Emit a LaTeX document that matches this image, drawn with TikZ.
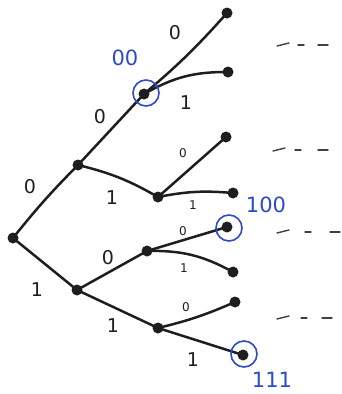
\documentclass[tikz,border=0pt]{standalone}
\usepackage{fontspec}
\setmainfont{DejaVu Sans}
\definecolor{penblue}{RGB}{45,75,200}
\definecolor{ink}{RGB}{30,30,30}
\begin{document}
\begin{tikzpicture}[x=1pt,y=-1pt,
  dot/.style={circle,fill=ink,inner sep=0pt,minimum size=11pt},
  edge/.style={draw=ink,line width=2.5pt,line cap=round},
  lbl/.style={text=ink,font=\fontsize{19}{19}\selectfont,inner sep=0pt},
  slbl/.style={text=ink,font=\fontsize{12}{12}\selectfont,inner sep=0pt},
  blbl/.style={text=penblue,font=\fontsize{21}{21}\selectfont,inner sep=0pt},
  ring/.style={draw=penblue,line width=1.6pt,circle,inner sep=0pt,minimum size=26pt},
  dashline/.style={draw=ink!85,line width=1.4pt,line cap=round}]
\useasboundingbox (0,0) rectangle (341,394);
% nodes
\node[dot] (r) at (13,238) {};
\node[dot] (a) at (78,165) {};
\node[dot] (b) at (77,290) {};
\node[dot] (aa) at (144,94) {};
\node[dot] (ab) at (158,197) {};
\node[dot] (ba) at (147,251) {};
\node[dot] (bb) at (158,328) {};
\node[dot] (aaa) at (227,13) {};
\node[dot] (aab) at (228,72) {};
\node[dot] (aba) at (226,137) {};
\node[dot] (abb) at (233,193) {};
\node[dot] (baa) at (227,227) {};
\node[dot] (bab) at (233,272) {};
\node[dot] (bba) at (235,302) {};
\node[dot] (bbb) at (243,355) {};
% edges
\draw[edge] (r.center) to[bend left=3] (a.center);
\draw[edge] (r.center) -- (b.center);
\draw[edge] (a.center) -- (aa.center);
\draw[edge] (a.center) to[bend left=8] (ab.center);
\draw[edge] (aa.center) to[bend right=4] (aaa.center);
\draw[edge] (aa.center) to[bend left=15] (aab.center);
\draw[edge] (ab.center) -- (aba.center);
\draw[edge] (ab.center) to[bend left=8] (abb.center);
\draw[edge] (b.center) -- (ba.center);
\draw[edge] (b.center) -- (bb.center);
\draw[edge] (ba.center) -- (baa.center);
\draw[edge] (ba.center) to[bend left=15] (bab.center);
\draw[edge] (bb.center) to[bend right=5] (bba.center);
\draw[edge] (bb.center) -- (bbb.center);
% edge labels
\node[lbl] (l1) at (30,187) {0};
\node[lbl] (l2) at (37,290) {1};
\node[lbl] (l3) at (100,117) {0};
\node[lbl] (l4) at (112,198) {1};
\node[lbl] (l5) at (175,33) {0};
\node[lbl] (l6) at (186,103) {1};
\node[slbl] (l7) at (183,153) {0};
\node[slbl] (l8) at (193,205) {1};
\node[lbl] (l9) at (108,258) {0};
\node[lbl] (l10) at (113,326) {1};
\node[slbl] (l11) at (183,231) {0};
\node[slbl] (l12) at (184,268) {1};
\node[slbl] (l13) at (186,307) {0};
\node[lbl] (l14) at (193,360) {1};
% blue annotations
\node[ring] (c1) at (146,93) {};
\node[ring] (c2) at (229,228) {};
\node[ring] (c3) at (244,354) {};
\node[blbl] (t1) at (125,58) {00};
\node[blbl] (t2) at (266,205) {100};
\node[blbl] (t3) at (272,380) {111};
% dashes
\foreach \y/\xa/\xb/\xc in {45/277/298/318, 150/273/295/318, 232/277/305/330, 318/277/301/322} {
  \draw[dashline] (\xa,\y+1) -- (\xa+12,\y-2);
  \draw[dashline] (\xb,\y) -- (\xb+6,\y);
  \draw[dashline] (\xc,\y) -- (\xc+10,\y);
}
\end{tikzpicture}
\end{document}
